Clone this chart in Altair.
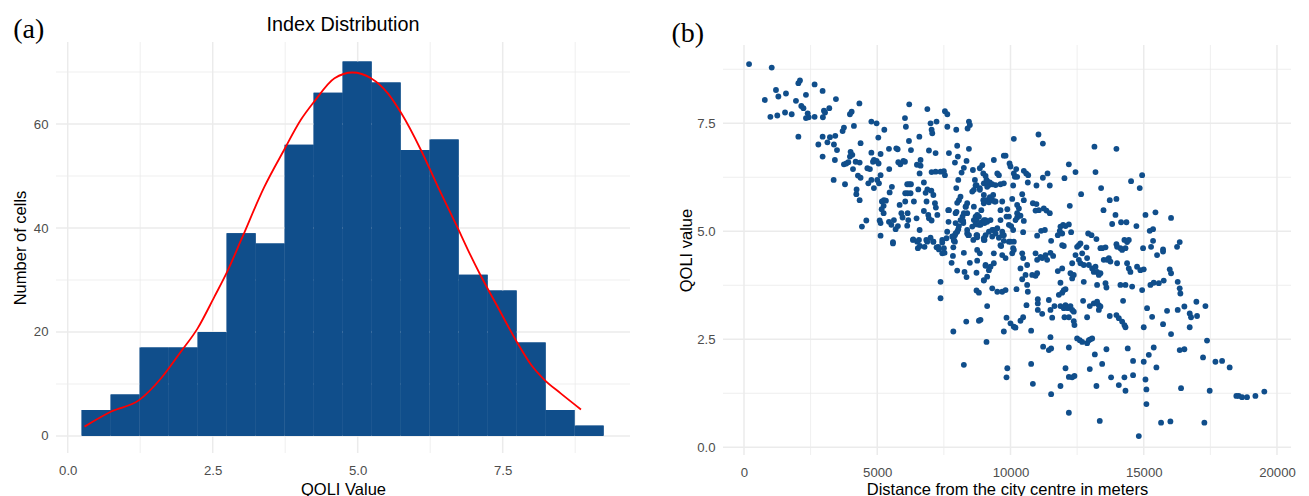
import altair as alt
import pandas as pd

FONT = "Liberation Sans"
SERIF = "Liberation Serif"
BLUE = "#104E8B"
GRID = "#EBEBEB"
LABEL = "#4D4D4D"

# ---------------- panel (a): histogram ----------------
bin_edges = [0.24, 0.74, 1.24, 1.74, 2.24, 2.74, 3.24, 3.74, 4.24, 4.74,
             5.24, 5.74, 6.24, 6.74, 7.24, 7.74, 8.24, 8.74, 9.24]
bin_counts = [5, 8, 17, 17, 20, 39, 37, 56, 66, 72, 68, 55, 57, 31, 28, 18, 5, 2]

curve_x = [0.29, 0.75, 1.23, 1.61, 1.95, 2.24, 2.53, 2.75, 2.99, 3.39, 3.73, 4.02,
           4.25, 4.6, 4.91, 5.23, 5.52, 5.75, 6.09, 6.38, 6.72, 6.9, 7.1, 7.41,
           7.76, 7.99, 8.22, 8.5, 8.85]
curve_y = [1.8, 4.7, 6.9, 11.1, 16.2, 20.7, 26.8, 31.6, 37.7, 47.9, 55.0, 60.8,
           64.3, 68.8, 69.9, 68.8, 65.9, 62.1, 55.0, 48.0, 40.1, 35.8, 31.3, 24.9,
           17.8, 13.7, 10.8, 8.2, 5.1]

hist_x_major = [0, 2.5, 5.0, 7.5]
hist_x_minor = [1.25, 3.75, 6.25, 8.75]
hist_y_major = [0, 20, 40, 60]
hist_y_minor = [10, 30, 50, 70]

# ---------------- panel (b): scatter ----------------
scatter_points = [
    (190, 8.87), (1040, 8.79), (780, 8.04), (1200, 8.27), (1290, 8.12), (1575, 8.19),
    (990, 7.65), (1250, 7.68), (1540, 7.75), (1790, 7.71), (1950, 8.02), (2040, 8.43),
    (2100, 8.49), (2150, 7.90), (2230, 7.85), (2325, 8.16), (2390, 7.73), (2425, 7.64),
    (2325, 7.62), (2650, 8.40), (2650, 7.65), (2950, 8.25), (3000, 7.79), (2960, 7.64),
    (3040, 7.75), (3200, 7.85), (3450, 8.06), (2040, 7.19), (2790, 7.01), (2950, 7.19),
    (3130, 7.06), (3225, 7.18), (3375, 7.01), (3425, 7.21), (2950, 6.73), (3490, 6.88),
    (3410, 6.65), (3365, 6.19), (3700, 7.32), (3750, 7.40), (3975, 7.71), (4040, 7.77),
    (4330, 7.96), (4125, 7.44), (4375, 7.04), (4000, 6.84), (4065, 6.77), (3975, 6.73),
    (3750, 6.55), (3840, 6.57), (3915, 6.60), (4090, 6.44), (4190, 6.61), (4340, 6.59),
    (3790, 6.09), (4275, 6.29), (4375, 6.24), (4225, 5.97), (4215, 5.86), (4340, 5.72),
    (4425, 5.11), (4590, 5.25), (4780, 7.54), (4975, 7.50), (5265, 7.35), (5040, 7.17),
    (4780, 6.82), (4875, 6.65), (4975, 6.63), (5050, 6.57), (5125, 6.79), (4630, 6.46),
    (4725, 6.44), (4840, 6.61), (4665, 6.11), (4780, 6.19), (5000, 6.19), (5125, 6.30),
    (4875, 6.00), (5065, 6.11), (5250, 5.72), (5175, 5.69), (5240, 5.59), (5325, 5.71),
    (5465, 5.90), (5550, 6.03), (5165, 5.51), (5240, 5.42), (5090, 5.25), (5125, 5.19),
    (5125, 4.90), (5440, 5.22), (5530, 5.15), (5625, 5.26), (5690, 5.05), (5775, 5.12),
    (5590, 4.75), (5440, 6.91), (5715, 6.92), (5765, 6.90), (5450, 6.44), (5790, 6.60),
    (5865, 6.55), (5980, 6.63), (6040, 6.61), (6040, 7.62), (6075, 7.42), (6200, 7.94),
    (6190, 7.09), (6265, 6.88), (6490, 6.54), (6625, 6.65), (6580, 7.19), (6880, 7.83),
    (6940, 6.87), (7190, 6.81), (7000, 7.50), (7040, 7.35), (7065, 7.27), (7225, 7.54),
    (7540, 7.78), (7630, 7.71), (7630, 7.42), (7965, 7.35), (8000, 6.98), (8025, 6.73),
    (7915, 6.59), (7690, 6.81), (7040, 6.37), (7190, 6.38), (7375, 6.38), (7500, 6.39),
    (7540, 6.30), (6590, 6.34), (6625, 6.52), (6750, 6.13), (6880, 5.97), (6125, 6.09),
    (6200, 6.09), (6265, 6.09), (6050, 5.88), (6140, 5.88), (6250, 5.88), (6540, 5.97),
    (6050, 5.69), (6375, 5.69), (6815, 5.89), (7030, 5.94), (7105, 5.84), (6850, 5.69),
    (7165, 5.65), (5840, 5.61), (5905, 5.42), (5950, 5.32), (6140, 5.42), (6165, 5.26),
    (6125, 5.13), (6475, 5.30), (6590, 5.03), (6750, 5.47), (6915, 5.38), (6940, 5.30),
    (7040, 5.25), (7200, 5.55), (7255, 5.38), (6350, 4.81), (6565, 4.80), (6840, 4.80),
    (7000, 4.85), (7105, 4.76), (7440, 4.80), (7290, 4.64), (7500, 4.61), (7665, 5.49),
    (7675, 5.22), (7940, 5.42), (7940, 4.95), (8040, 5.05), (7855, 4.85), (7875, 4.78),
    (8230, 5.19), (8200, 5.34), (8325, 5.57), (8375, 5.65), (8690, 5.34), (8725, 5.26),
    (8725, 4.91), (8750, 4.86), (9065, 4.91), (9025, 4.80), (8000, 5.66), (8065, 5.72),
    (8125, 5.80), (7965, 6.00), (8040, 6.19), (8165, 6.36), (8250, 6.47), (8350, 6.63),
    (8440, 6.91), (8440, 7.54), (8390, 7.38), (8475, 7.46), (8590, 6.42), (8665, 6.19),
    (8725, 6.07), (8850, 6.46), (8940, 6.53), (8980, 6.34), (9065, 6.28), (8565, 5.92),
    (8850, 5.96), (9000, 6.11), (9100, 6.19), (9190, 6.07), (8980, 5.72), (9090, 5.72),
    (9000, 5.65), (8625, 5.57), (8905, 5.49), (8565, 5.11), (8815, 5.15), (8915, 5.21),
    (9065, 5.26), (8375, 4.95), (8415, 4.91), (8605, 4.80),
    (10125, 7.14), (9750, 6.75), (9815, 6.75), (9375, 6.65), (9965, 6.57), (10000, 6.50),
    (9505, 6.34), (9565, 6.30), (10125, 6.34), (10165, 6.26), (10250, 6.26), (9440, 6.07),
    (9625, 6.09), (9750, 6.11), (10100, 6.06), (9440, 5.69), (9690, 5.69), (9350, 5.84),
    (9225, 5.79), (10065, 5.75), (10250, 5.61), (10315, 5.53), (9625, 5.49), (9880, 5.51),
    (9850, 5.34), (9940, 5.34), (9625, 5.26), (10250, 5.42), (10250, 5.32), (10190, 5.26),
    (9375, 5.03), (9505, 5.07), (9690, 4.99), (9750, 4.91), (9940, 5.15), (10025, 5.12),
    (10100, 5.03), (9940, 4.76), (9750, 4.78), (10125, 4.76), (9565, 4.85), (9315, 4.88),
    (11050, 7.24), (11215, 7.03), (13150, 6.96), (13975, 6.91), (10215, 6.44), (10500, 6.40),
    (10590, 6.34), (10665, 6.30), (11390, 6.34), (12190, 6.55), (12440, 6.37), (12025, 6.23),
    (13190, 6.37), (11215, 6.24), (11475, 6.06), (10650, 6.13), (10975, 6.06), (10440, 5.86),
    (10500, 5.72), (10840, 5.65), (10975, 5.63), (10940, 5.48), (11065, 5.49), (11250, 5.53),
    (11350, 5.48), (11475, 5.42), (12650, 5.86), (12225, 5.59), (13400, 6.00), (13725, 5.72),
    (13975, 5.75), (13490, 5.49), (13940, 5.38), (14525, 6.16), (14850, 6.00), (14940, 6.30),
    (15065, 5.38), (15440, 5.44), (16025, 5.31), (13815, 5.17), (14150, 5.21), (14350, 5.21),
    (14725, 5.12), (15225, 5.01), (15350, 5.05), (10375, 5.36), (10500, 5.24), (10475, 4.98),
    (11150, 5.01), (11290, 5.03), (11000, 4.90), (11875, 5.11), (11975, 5.15), (12065, 5.12),
    (12190, 5.16), (11850, 5.01), (11775, 4.91), (11940, 4.95), (12275, 4.98), (11525, 4.78),
    (12915, 4.95), (13040, 4.91), (13225, 4.82), (11940, 4.68), (12000, 4.66), (12565, 4.68),
    (12625, 4.72), (12850, 4.63), (13375, 4.61), (13565, 4.63), (13975, 4.70), (14125, 4.61),
    (14275, 4.80), (14375, 4.75), (14975, 4.61), (15275, 4.64), (15350, 4.78), (15725, 4.58),
    (16250, 4.64), (16350, 4.75), (9690, 4.91), (9650, 4.66), (10100, 4.61),
    (9625, 4.68), (10000, 4.76), (9375, 4.49), (9690, 4.45), (9815, 4.38), (10065, 4.49),
    (10125, 4.57), (9065, 4.22), (9250, 4.18), (9375, 4.26), (9000, 3.87), (9125, 3.95),
    (9315, 3.68), (9505, 3.60), (9690, 3.60), (9815, 3.64), (9125, 3.27), (8875, 2.95),
    (9100, 2.44), (9750, 2.68), (9850, 3.00), (10000, 2.87), (10125, 2.79), (10190, 2.77),
    (10375, 2.93), (10475, 3.01), (9880, 1.83), (9850, 1.62), (10225, 3.66), (10440, 3.89),
    (10625, 3.76), (10650, 3.60), (10440, 4.49), (10475, 4.38), (10375, 4.14), (10625, 4.22),
    (10565, 3.99), (10815, 3.99), (10940, 3.97), (11000, 4.03), (10600, 3.29), (10775, 2.70),
    (10775, 1.93), (10840, 1.47), (10940, 4.49), (11000, 4.34), (11125, 4.41), (11190, 4.38),
    (11315, 4.45), (11375, 4.34), (11500, 4.50), (11600, 4.43), (11025, 3.43), (11025, 3.33),
    (11025, 3.18), (11190, 3.09), (11440, 3.41), (11500, 3.18), (11565, 3.00), (11650, 3.27),
    (11225, 2.33), (11440, 2.25), (11525, 2.29), (11500, 2.55), (11525, 1.23), (11775, 4.08),
    (11875, 3.81), (11940, 4.14), (11815, 3.53), (11940, 3.58), (12000, 3.64), (12065, 3.66),
    (11875, 3.27), (12000, 3.22), (12065, 3.29), (12150, 3.22), (12250, 3.27), (12315, 3.18),
    (12375, 3.14), (12025, 3.01), (12190, 3.01), (12190, 2.31), (12065, 1.83), (12190, 1.63),
    (12315, 1.62), (12400, 1.65), (11875, 1.42), (12190, 0.80), (12375, 2.92), (12400, 2.83),
    (12250, 4.03), (12315, 3.91), (12375, 3.99), (12315, 4.26), (12440, 4.45), (12565, 4.34),
    (12625, 4.26), (12690, 4.49), (12500, 4.64), (12750, 4.22), (12875, 4.38), (12940, 4.22),
    (13065, 4.14), (13125, 4.06), (13190, 4.18), (13250, 4.06), (13315, 3.99), (13375, 4.03),
    (12750, 3.83), (13250, 3.76), (13565, 3.80), (13600, 3.70), (12725, 3.39), (12975, 3.27),
    (13125, 3.33), (13250, 3.37), (13315, 3.29), (13315, 3.18), (13375, 3.26), (12875, 3.01),
    (12500, 2.52), (12600, 2.48), (12690, 2.44), (12875, 2.41), (12940, 2.48), (13000, 2.50),
    (13065, 2.52), (13165, 2.15), (13440, 1.93), (13600, 2.27), (12975, 1.81), (13225, 1.42),
    (13350, 0.61), (13440, 4.61), (13500, 4.34), (13625, 4.34), (13690, 4.38), (13750, 4.30),
    (14000, 4.26), (14375, 4.26), (14440, 4.14), (14500, 4.06), (14000, 4.64), (14190, 4.57),
    (14315, 4.61), (14440, 4.80), (13725, 3.04), (13975, 3.06), (14065, 2.99), (14190, 2.91),
    (14275, 2.83), (14315, 2.78), (14125, 3.76), (14315, 3.76), (14565, 3.72), (14225, 3.39),
    (14750, 4.18), (14875, 4.10), (15000, 4.12), (14940, 3.64), (15125, 3.22), (15315, 3.02),
    (15000, 2.78), (15500, 4.45), (15725, 4.53), (15250, 3.76), (15375, 3.81), (15565, 3.80),
    (15750, 3.86), (15975, 4.12), (16025, 4.03), (15725, 2.85), (15875, 3.16), (16025, 2.62),
    (16275, 3.18), (16525, 3.26), (16275, 3.83), (16350, 3.68), (16375, 3.56), (16725, 3.10),
    (16775, 3.01), (17000, 3.04), (16725, 2.78), (16975, 3.37), (17315, 3.27), (15375, 2.31),
    (15190, 2.14), (14400, 2.29), (14600, 2.00), (15000, 1.98), (15475, 1.85), (14600, 1.67),
    (14275, 1.62), (14315, 1.31), (14065, 1.44), (13775, 1.62), (15065, 1.57), (15100, 1.34),
    (15100, 1.00), (14815, 0.26), (15650, 0.57), (16000, 0.60), (16350, 2.25), (16525, 2.27),
    (16400, 1.37), (17225, 2.08), (17375, 2.47), (17475, 1.31), (17275, 0.57), (17690, 1.98),
    (17940, 2.00), (18225, 1.85), (18475, 1.19), (18565, 1.19), (18690, 1.16), (18875, 1.16),
    (19190, 1.19), (19525, 1.29),
    (5590, 4.72), (6340, 4.80), (6500, 4.76), (6525, 4.61), (6600, 4.66), (6775, 4.64),
    (6875, 4.76), (7105, 4.76), (7225, 4.63), (7315, 4.58), (7440, 4.74), (7440, 4.49),
    (7525, 4.50), (7790, 4.27), (7840, 4.43), (7855, 4.63), (7915, 4.76), (8000, 4.09),
    (8250, 4.50), (8275, 4.06), (8350, 3.94), (8475, 4.27), (8725, 4.04), (8750, 4.57),
    (8850, 4.49), (8750, 4.32), (9000, 4.80), (9065, 4.20), (9000, 3.86), (9190, 4.10),
    (7375, 3.83), (7375, 3.45), (8725, 3.63), (8815, 3.58), (7855, 2.68), (8340, 2.91),
    (8815, 2.93), (8250, 1.91),
    (9125, 6.16), (9225, 6.13), (9315, 6.09), (9125, 6.03), (9000, 5.84), (9065, 5.70),
    (9190, 5.67), (9315, 5.72), (9400, 5.69), (8690, 6.06), (8625, 5.96), (8850, 6.00),
    (8315, 5.57), (8375, 5.42), (8250, 5.42), (7975, 5.45), (7690, 5.49), (8750, 5.38),
    (8815, 5.34), (8625, 5.26), (9000, 5.26), (9025, 5.19), (9125, 5.22), (8875, 5.15),
    (8690, 5.16), (9250, 5.26), (9190, 4.99), (8125, 5.26), (8225, 5.24), (7940, 5.19),
    (8000, 4.99), (7915, 4.91), (7815, 4.88), (7875, 4.80), (7625, 4.99), (7600, 4.84),
    (8065, 5.12), (8375, 5.03), (8440, 4.91), (8750, 4.91), (9000, 4.84), (9315, 5.03),
    (9440, 4.95),
]

sc_x_major = [0, 5000, 10000, 15000, 20000]
sc_x_minor = [2500, 7500, 12500, 17500]
sc_y_major = [0, 2.5, 5.0, 7.5]
sc_y_minor = [1.25, 3.75, 6.25, 8.75]

# ---------------- helpers ----------------
LW, LH = 574, 411
RW, RH = 568, 413


def axis(values, fmt, title, orient, **kw):
    base = dict(values=values, format=fmt, title=title, grid=False, domain=False,
                ticks=False, tickSize=0, labelFlush=False, labelOverlap=False,
                labelFont=FONT, labelFontSize=13.2, labelColor=LABEL,
                titleFont=FONT, titleFontSize=16.5, titleFontWeight="normal",
                titleColor="black")
    if orient == "bottom":
        base.update(labelPadding=11, titleBaseline="alphabetic")
    else:
        base.update(labelPadding=8, titleAngle=270, titleBaseline="middle",
                    titleAlign="center")
    base.update(kw)
    return alt.Axis(**base)


def vgrid(vals, scale, ax, width, y_top=None, y_bot=None):
    enc = dict(x=alt.X("v:Q", scale=scale, axis=ax))
    if y_top is not None:
        enc["y"] = alt.value(y_top)
        enc["y2"] = alt.value(y_bot)
    return alt.Chart(pd.DataFrame({"v": vals})).mark_rule(
        color=GRID, strokeWidth=width).encode(**enc)


def hgrid(vals, scale, ax, width):
    return alt.Chart(pd.DataFrame({"v": vals})).mark_rule(
        color=GRID, strokeWidth=width).encode(y=alt.Y("v:Q", scale=scale, axis=ax))


def label(text, x, y, size, font, align="left"):
    return alt.Chart(pd.DataFrame({"t": [text]})).mark_text(
        font=font, fontSize=size, align=align, baseline="alphabetic",
        color="black").encode(x=alt.value(x), y=alt.value(y), text="t:N")


# ---------------- panel (a) ----------------
xL = alt.Scale(domain=[-0.202, 9.695], nice=False, zero=False)
yL = alt.Scale(domain=[-3.27, 75.77], nice=False, zero=False)
axXL = axis(hist_x_major, ".1f", "QOLI Value", "bottom", titleY=41)
axYL = axis(hist_y_major, "d", "Number of cells", "left", titleX=-36, titleY=LH / 2)

hist_df = pd.DataFrame({"start": bin_edges[:-1], "end": bin_edges[1:], "count": bin_counts})
curve_df = pd.DataFrame({"x": curve_x, "y": curve_y})

bars = alt.Chart(hist_df).mark_bar(color=BLUE, opacity=1).encode(
    x=alt.X("start:Q", scale=xL, axis=axXL),
    x2="end:Q",
    y=alt.Y("count:Q", scale=yL, axis=axYL),
    y2=alt.datum(0),
)
curve = alt.Chart(curve_df).mark_line(color="red", strokeWidth=1.8,
                                      interpolate="monotone").encode(
    x=alt.X("x:Q", scale=xL, axis=axXL), y=alt.Y("y:Q", scale=yL, axis=axYL))

anchor = alt.Chart(pd.DataFrame({"t": [0]})).mark_rule(
    color="white", strokeWidth=1).encode(
    x=alt.value(-47), x2=alt.value(-40), y=alt.value(-33.5), y2=alt.value(-33.5))

left = alt.layer(
    bars,
    vgrid(hist_x_minor, xL, axXL, 0.8), hgrid(hist_y_minor, yL, axYL, 0.8),
    vgrid(hist_x_major, xL, axXL, 1.5), hgrid(hist_y_major, yL, axYL, 1.5),
    bars, curve, anchor,
    label("Index Distribution", LW / 2, -11, 19.8, FONT, align="center"),
    label("(a)", -42.7, -4.5, 28, SERIF),
).properties(width=LW, height=LH)

# ---------------- panel (b) ----------------
xR = alt.Scale(domain=[-788, 20526], nice=False, zero=False)
yR = alt.Scale(domain=[-0.178, 9.382], nice=False, zero=False)
axXR = axis(sc_x_major, "d", "Distance from the city centre in meters", "bottom", titleY=39)
axYR = axis(sc_y_major, ".1f", "QOLI value", "left", titleX=-37, titleY=208)

sc_df = pd.DataFrame({"dist": [p[0] for p in scatter_points],
                      "qoli": [p[1] for p in scatter_points]})

pts = alt.Chart(sc_df).mark_circle(color=BLUE, size=34, opacity=1).encode(
    x=alt.X("dist:Q", scale=xR, axis=axXR),
    y=alt.Y("qoli:Q", scale=yR, axis=axYR),
)

right = alt.layer(
    vgrid(sc_x_minor, xR, axXR, 0.8, 3, RH), hgrid(sc_y_minor, yR, axYR, 0.8),
    vgrid(sc_x_major, xR, axXR, 1.5, 3, RH), hgrid(sc_y_major, yR, axYR, 1.5),
    pts,
    label("(b)", -51.6, 0, 28, SERIF),
).properties(width=RW, height=RH)

chart = alt.hconcat(left, right, spacing=93, bounds="flush").properties(
    padding=0, background="white"
).configure_view(stroke=None)

chart.save("out.html", embed_options={"renderer": "svg", "actions": False})
